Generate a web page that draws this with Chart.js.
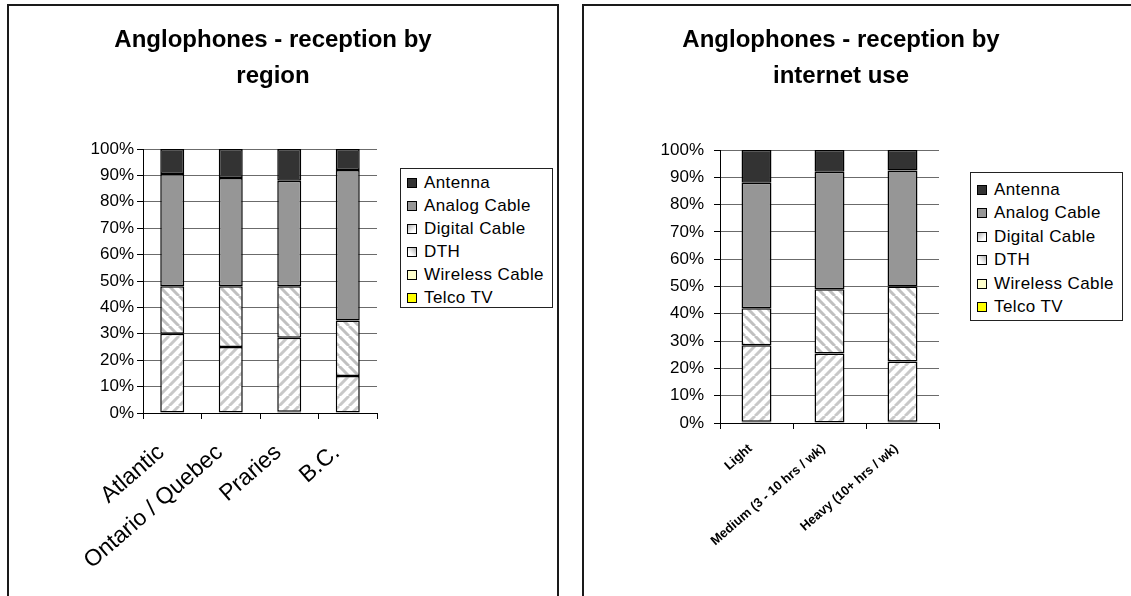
<!DOCTYPE html>
<html><head><meta charset="utf-8">
<script src="https://cdn.jsdelivr.net/npm/chart.js@4.4.1/dist/chart.umd.min.js"></script>
<style>
html,body{margin:0;padding:0;background:#fff;width:1131px;height:596px;overflow:hidden;font-family:'Liberation Sans',Arial,sans-serif;}
.panel{position:absolute;top:4px;height:640px;border:2px solid #1a1a1a;box-sizing:border-box;}
#p1{left:7px;width:552px;}
#p2{left:582px;width:580px;}
canvas{position:absolute;}
.legend{position:absolute;border:1px solid #222;box-sizing:border-box;background:#fff;}
.item{position:absolute;left:6px;height:20px;display:flex;align-items:center;font-size:17px;letter-spacing:0.4px;color:#000;white-space:nowrap;}
.sw{width:8px;height:8px;border:1px solid #000;margin-right:7px;flex:none;}
</style></head>
<body>
<div class="panel" id="p1"></div>
<div class="panel" id="p2"></div>
<canvas id="c1" width="528" height="590" style="left:9px;top:6px"></canvas>
<canvas id="c2" width="512" height="590" style="left:585px;top:6px"></canvas>
<div class="legend" id="lg1" style="left:400px;top:168px;width:153px;height:140px"></div>
<div class="legend" id="lg2" style="left:970px;top:172px;width:153px;height:149px"></div>
<script>
// ---- data ----
const seriesNames = ['Telco TV', 'Wireless Cable', 'DTH', 'Digital Cable', 'Analog Cable', 'Antenna'];
const yTickLabels = ['0%','10%','20%','30%','40%','50%','60%','70%','80%','90%','100%'];

const regionTitle = ['Anglophones - reception by', 'region'];
const regionCategories = ['Atlantic', 'Ontario / Quebec', 'Praries', 'B.C.'];
const regionTelco    = [0, 0, 0.5, 0];
const regionWireless = [0, 0, 0, 0];
const regionDTH      = [30, 25, 28, 14];
const regionDigital  = [18, 23, 19.5, 21];
const regionAnalog   = [42.5, 41, 40, 57];
const regionAntenna  = [9.5, 11, 12, 8];

const usageTitle = ['Anglophones - reception by', 'internet use'];
const usageCategories = ['Light', 'Medium (3 - 10 hrs / wk)', 'Heavy (10+ hrs / wk)'];
const usageTelco    = [0.5, 0, 0.5];
const usageWireless = [0, 0, 0];
const usageDTH      = [28, 25.5, 22];
const usageDigital  = [13.5, 23.5, 27.5];
const usageAnalog   = [46, 43, 42.5];
const usageAntenna  = [12, 8, 7.5];

// ---- styles ----
const FONT = "'Liberation Sans', Arial, sans-serif";
function hatch(ctx, dir, color){
  const s = 10, c = document.createElement('canvas');
  c.width = c.height = s;
  const g = c.getContext('2d');
  g.fillStyle = '#fff'; g.fillRect(0,0,s,s);
  g.strokeStyle = color; g.lineWidth = 3; g.beginPath();
  for (const o of [-s, 0, s]) {
    if (dir === '/') { g.moveTo(o, s); g.lineTo(o + s, 0); }
    else { g.moveTo(o, 0); g.lineTo(o + s, s); }
  }
  g.stroke();
  return ctx.createPattern(c, 'repeat');
}
function fills(ctx){
  return ['#FFFF00', '#FFFFCC', hatch(ctx, '/', '#c8c8c8'), hatch(ctx, '\\', '#c0c0c0'), '#969696', '#333333'];
}
const swatchCss = ['#FFFF00', '#FFFFCC', 'linear-gradient(45deg,#fff 30%,#b0b0b0 100%)',
  'linear-gradient(135deg,#b0b0b0 0%,#fff 70%)', '#969696', '#333333'];

function build(id, title, cats, series, o){
  const cv = document.getElementById(id);
  const ctx = cv.getContext('2d');
  const f = fills(ctx);
  const datasets = seriesNames.map((n, i) => ({
    label: n, data: series[i], backgroundColor: f[i], borderColor: '#000',
    borderWidth: 1.5, borderSkipped: false, barPercentage: 0.41, categoryPercentage: 1
  }));
  new Chart(ctx, {
    type: 'bar',
    data: { labels: cats, datasets },
    options: {
      responsive: false, animation: false,
      layout: { padding: 0 },
      plugins: {
        legend: { display: false }, tooltip: { enabled: false },
        title: { display: true, text: title, color: '#000',
          font: { family: FONT, size: 24, weight: 'bold', lineHeight: 1.5 },
          padding: { top: 16, bottom: o.titleBottom } }
      },
      scales: {
        x: { stacked: true,
          grid: { display: true, drawOnChartArea: false, drawTicks: true, tickLength: 6, color: '#000', offset: true },
          border: { display: true, color: '#000', width: 1 },
          ticks: { color: '#000', autoSkip: false, maxRotation: 41, minRotation: 41, padding: o.xPad,
            labelOffset: o.xOff,
            font: { family: FONT, size: o.xFont, weight: o.xWeight } },
          afterFit: s => { s.height = o.xHeight; } },
        y: { stacked: true, min: 0, max: 100,
          grid: { color: '#6b6b6b', lineWidth: 1, tickLength: 6, tickColor: '#000' },
          border: { display: true, color: '#000', width: 1 },
          ticks: { stepSize: 10, color: '#000', padding: o.yPad, autoSkip: false,
            font: { family: FONT, size: 17 },
            callback: (v, i) => yTickLabels[i] },
          afterFit: s => { s.width = o.yWidth; } },
        legendSpace: { type: 'linear', position: 'right', display: true,
          grid: { display: false }, border: { display: false }, ticks: { display: false },
          afterFit: s => { s.width = o.rightSpace; } }
      }
    }
  });
}
function legend(id, first, step){
  const el = document.getElementById(id);
  const order = seriesNames.map((n, i) => i).reverse();
  order.forEach((i, k) => {
    const it = document.createElement('div');
    it.className = 'item';
    it.style.top = (first + k * step - 10) + 'px';
    const sw = document.createElement('div');
    sw.className = 'sw'; sw.style.background = swatchCss[i];
    const tx = document.createElement('span'); tx.textContent = seriesNames[i];
    it.appendChild(sw); it.appendChild(tx); el.appendChild(it);
  });
}

build('c1', regionTitle, regionCategories,
  [regionTelco, regionWireless, regionDTH, regionDigital, regionAnalog, regionAntenna],
  { rightSpace: 160, titleBottom: 55, xHeight: 183, yWidth: 134, yPad: 3, xFont: 23, xWeight: 'normal', xPad: 20, xOff: -11 });
build('c2', usageTitle, usageCategories,
  [usageTelco, usageWireless, usageDTH, usageDigital, usageAnalog, usageAntenna],
  { rightSpace: 158, titleBottom: 56, xHeight: 173, yWidth: 135, yPad: 10, xFont: 13, xWeight: 'bold', xPad: 12, xOff: -6 });
legend('lg1', 14, 23);
legend('lg2', 17, 23.4);
</script>
</body></html>
